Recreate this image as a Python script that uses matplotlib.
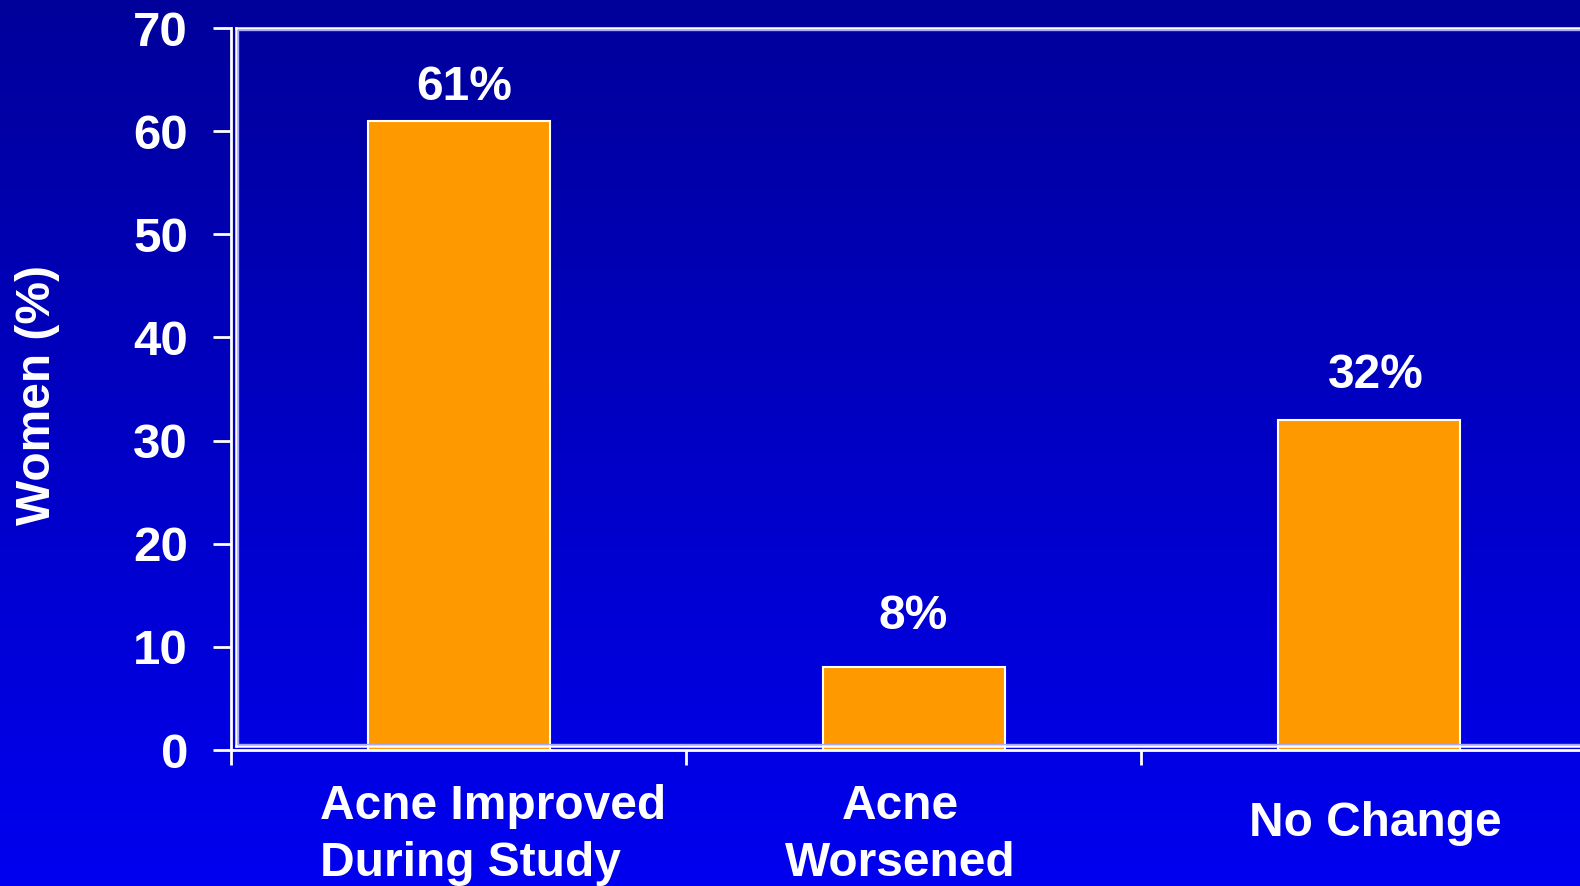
import numpy as np
import matplotlib
matplotlib.use("Agg")
import matplotlib.pyplot as plt
from matplotlib.colors import LinearSegmentedColormap
from matplotlib.lines import Line2D

# Data
categories = ["Acne Improved\nDuring Study", "Acne\nWorsened", "No Change"]
values = [61, 8, 32]
value_labels = ["61%", "8%", "32%"]
y_ticks = [0, 10, 20, 30, 40, 50, 60, 70]

W, H = 1580, 886
DPI = 100
FS = 34.5
plt.rcParams["font.family"] = ["Liberation Sans", "DejaVu Sans"]
plt.rcParams["font.weight"] = "bold"

fig = plt.figure(figsize=(W / DPI, H / DPI), dpi=DPI)

# Vertical blue gradient background
bg = fig.add_axes([0, 0, 1, 1], zorder=-10)
cmap = LinearSegmentedColormap.from_list("bluegrad", ["#0000F0", "#00009A"])
grad = np.linspace(0, 1, 256).reshape(-1, 1)
bg.imshow(grad, aspect="auto", cmap=cmap, origin="lower", extent=[0, 1, 0, 1])
bg.set_axis_off()


def fx(px):
    return px / W


def fy(py):
    return 1 - py / H


# Plot area geometry (pixels)
left_px, zero_px, top_px = 231, 750, 28
cat_w = 455
ax = fig.add_axes([fx(left_px), fy(zero_px), 3 * cat_w / W, (zero_px - top_px) / H])
ax.set_facecolor("none")
ax.set_xlim(0, 3)
ax.set_ylim(0, 70)

# Inner plot-area frame (double line: white + pale blue)
fl, ft, fb = 236, 27.5, 746
for off, col, lw in [(0, "white", 1.8), (2.0, "#A8A8FF", 1.0)]:
    fig.add_artist(Line2D([fx(fl + off), fx(fl + off)], [fy(fb - off), fy(ft + off)],
                          color=col, lw=lw, transform=fig.transFigure))
    fig.add_artist(Line2D([fx(fl + off), 1.0], [fy(ft + off), fy(ft + off)],
                          color=col, lw=lw, transform=fig.transFigure))
    fig.add_artist(Line2D([fx(fl + off), 1.0], [fy(fb - off), fy(fb - off)],
                          color=col, lw=lw, transform=fig.transFigure))

x = np.arange(len(values)) + 0.5
ax.bar(x, values, width=0.4, color="#FF9900", edgecolor="white", linewidth=1.5, zorder=3)

# Value labels above bars (offsets in points)
label_offsets = [(4, 24), (0, 37), (5, 32)]
for xi, v, lab, (dx, dy) in zip(x, values, value_labels, label_offsets):
    ax.annotate(lab, (xi, v), xytext=(dx, dy), textcoords="offset points",
                ha="center", va="center", color="white", fontsize=FS, fontweight="bold")

# Axes styling
for s in ["top", "right"]:
    ax.spines[s].set_visible(False)
for s in ["left", "bottom"]:
    ax.spines[s].set_color("white")
    ax.spines[s].set_linewidth(2)
    ax.spines[s].set_zorder(4)

ax.set_yticks(y_ticks)
ax.set_yticklabels([str(t) for t in y_ticks])
ax.tick_params(axis="y", colors="white", length=13, width=2, pad=18, labelsize=35.5)
ax.set_xticks([0, 1, 2, 3])
ax.set_xticklabels([])
ax.tick_params(axis="x", colors="white", length=11, width=2)

# Category labels
fig.text(fx(320), fy(835), categories[0], ha="left", va="center", color="white",
         fontsize=FS, fontweight="bold", multialignment="left", linespacing=1.34)
fig.text(fx(900), fy(835), categories[1], ha="center", va="center", color="white",
         fontsize=FS, fontweight="bold", multialignment="center", linespacing=1.34)
fig.text(fx(1375), fy(824), categories[2], ha="center", va="center", color="white",
         fontsize=FS, fontweight="bold")

# Y axis title
fig.text(fx(38), fy(395), "Women (%)", rotation=90, ha="center", va="center",
         color="white", fontsize=FS, fontweight="bold")

fig.savefig("out.png", dpi=DPI)
